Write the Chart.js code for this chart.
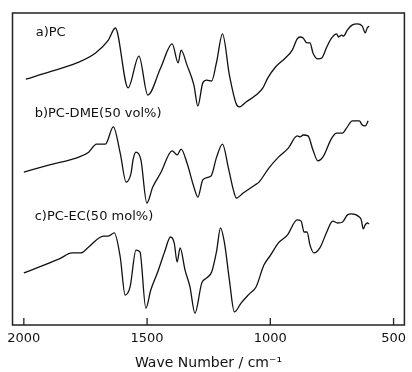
<!DOCTYPE html>
<html>
<head>
<meta charset="utf-8">
<script src="https://cdn.jsdelivr.net/npm/chart.js@4.4.1/dist/chart.umd.min.js"></script>
<style>
  html, body { margin: 0; padding: 0; background: #fff; }
  #wrap { width: 412px; height: 372px; }
</style>
</head>
<body>
<div id="wrap"><canvas id="irChart"></canvas></div>
<script>
// wavenumber (cm-1) and relative transmittance (spectra stacked)
let wnA = [1992, 1896, 1785, 1709, 1657, 1629, 1577, 1533, 1497, 1445, 1398, 1374, 1362, 1338, 1310, 1294, 1274, 1258, 1238, 1218, 1194, 1166, 1138, 1126, 1098, 1058, 1030, 1010, 979, 939, 911, 891, 879, 867, 851, 839, 827, 807, 791, 771, 751, 731, 723, 711, 703, 687, 667, 647, 627, 615, 607, 599];
let pcA = [78.8, 81.1, 84.0, 87.2, 91.3, 95.2, 76.0, 86.2, 73.7, 82.4, 90.1, 84.0, 88.1, 83.3, 76.9, 70.2, 77.6, 78.5, 78.2, 84.3, 93.3, 80.1, 70.8, 69.9, 71.5, 73.7, 76.0, 79.2, 82.7, 85.6, 88.1, 91.7, 92.3, 92.0, 90.4, 90.4, 87.2, 85.3, 85.6, 89.1, 92.0, 93.3, 92.3, 92.9, 92.6, 94.6, 96.2, 96.5, 95.8, 93.6, 95.2, 95.8];

let wnB = [2000, 1896, 1777, 1737, 1705, 1669, 1637, 1609, 1585, 1565, 1557, 1545, 1525, 1501, 1477, 1445, 1398, 1378, 1362, 1338, 1310, 1294, 1274, 1250, 1238, 1218, 1194, 1170, 1150, 1138, 1110, 1062, 1046, 1006, 967, 927, 891, 879, 867, 847, 827, 807, 787, 751, 731, 707, 691, 667, 639, 627, 615, 603];
let dmeB = [49.0, 51.3, 53.8, 55.4, 58.0, 58.0, 63.5, 55.1, 45.8, 48.7, 52.9, 55.4, 52.9, 39.1, 44.2, 48.7, 55.8, 54.5, 56.4, 51.9, 44.2, 41.0, 46.5, 47.4, 48.1, 53.8, 58.0, 50.3, 43.3, 40.7, 42.3, 44.9, 45.8, 50.3, 53.8, 56.7, 60.6, 60.3, 60.9, 60.6, 56.1, 52.6, 53.8, 59.9, 61.5, 61.5, 63.1, 65.4, 65.4, 64.1, 63.8, 65.4];

let wnC = [2000, 1856, 1804, 1769, 1737, 1677, 1657, 1633, 1609, 1589, 1569, 1545, 1529, 1505, 1485, 1457, 1429, 1405, 1390, 1378, 1366, 1346, 1326, 1306, 1278, 1258, 1238, 1218, 1202, 1186, 1166, 1146, 1118, 1086, 1058, 1026, 999, 967, 931, 891, 875, 863, 851, 839, 823, 799, 771, 747, 727, 707, 687, 671, 639, 631, 623, 615, 607, 599];
let ecC = [16.7, 21.2, 23.1, 23.1, 25.0, 28.5, 28.5, 29.5, 21.8, 9.6, 12.2, 24.0, 23.4, 5.4, 11.2, 17.0, 23.4, 28.2, 26.3, 20.2, 24.7, 17.6, 12.2, 3.8, 13.5, 15.1, 17.0, 23.7, 31.1, 26.3, 14.4, 4.2, 7.1, 9.9, 12.2, 19.2, 22.4, 26.3, 28.8, 33.7, 33.3, 29.8, 29.8, 25.6, 23.1, 24.7, 29.8, 33.3, 32.7, 33.0, 35.3, 35.6, 34.6, 33.7, 30.8, 32.1, 32.7, 32.4];

let seriesNames = ["a)PC", "b)PC-DME(50 vol%)", "c)PC-EC(50 mol%)"];
let tickValues = [2000, 1500, 1000, 500];

function toPoints(xs, ys) {
  return xs.map(function (x, i) { return { x: x, y: ys[i] }; });
}

// where each spectrum's name is written, in data units
let namePos = [
  { x: 1952, y: 93.6 },
  { x: 1956, y: 67.9 },
  { x: 1956, y: 34.6 }
];

const frameAndLabels = {
  id: "frameAndLabels",
  afterDraw(chart) {
    const ctx = chart.ctx;
    const a = chart.chartArea;
    const xs = chart.scales.x;
    const ys = chart.scales.y;
    ctx.save();
    ctx.strokeStyle = "#222";
    ctx.lineWidth = 1.5;
    ctx.strokeRect(a.left, a.top, a.right - a.left, a.bottom - a.top);
    // inward tick marks on the bottom axis
    ctx.lineWidth = 1.3;
    xs.ticks.forEach(function (t) {
      const px = xs.getPixelForValue(t.value);
      ctx.beginPath();
      ctx.moveTo(px, a.bottom);
      ctx.lineTo(px, a.bottom - 7);
      ctx.stroke();
    });
    ctx.fillStyle = "#111";
    ctx.font = "13px 'DejaVu Sans'";
    ctx.textBaseline = "middle";
    ctx.textAlign = "left";
    seriesNames.forEach(function (name, i) {
      ctx.fillText(name, xs.getPixelForValue(namePos[i].x), ys.getPixelForValue(namePos[i].y));
    });
    ctx.restore();
  }
};

function lineSet(xs, ys) {
  return {
    data: toPoints(xs, ys),
    borderColor: "#111",
    borderWidth: 1.3,
    pointRadius: 0,
    fill: false,
    cubicInterpolationMode: "monotone"
  };
}

new Chart(document.getElementById("irChart"), {
  type: "line",
  data: {
    datasets: [lineSet(wnA, pcA), lineSet(wnB, dmeB), lineSet(wnC, ecC)]
  },
  options: {
    responsive: true,
    maintainAspectRatio: false,
    animation: false,
    layout: { padding: { left: 12.5, right: 1, top: 13, bottom: 0 } },
    plugins: { legend: { display: false }, tooltip: { enabled: false } },
    scales: {
      x: {
        type: "linear",
        reverse: true,
        min: 456,
        max: 2046,
        afterBuildTicks: function (scale) {
          scale.ticks = tickValues.map(function (v) { return { value: v }; });
        },
        afterFit: function (scale) { scale.height = 47; },
        grid: { display: false, drawTicks: false },
        border: { display: false },
        ticks: {
          color: "#111",
          font: { family: "DejaVu Sans", size: 13 },
          padding: 6,
          maxRotation: 0,
          autoSkip: false,
          callback: function (v) { return String(v); }
        },
        title: {
          display: true,
          text: "Wave Number / cm⁻¹",
          color: "#111",
          font: { family: "DejaVu Sans", size: 14 },
          padding: { top: 0, bottom: 0 }
        }
      },
      y: {
        display: false,
        min: 0,
        max: 100
      }
    }
  },
  plugins: [frameAndLabels]
});
</script>
</body>
</html>
